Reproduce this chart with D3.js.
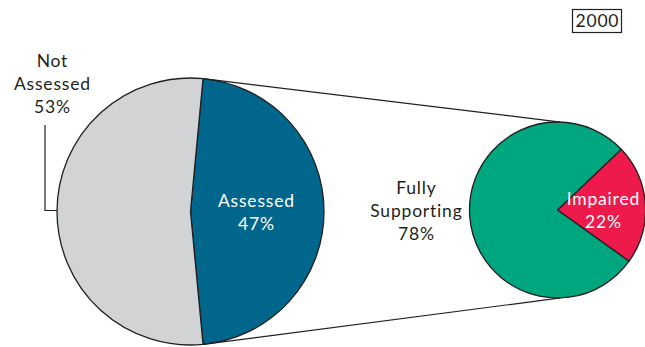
<!DOCTYPE html>
<html><head><meta charset="utf-8">
<script src="https://cdn.jsdelivr.net/npm/d3@7"></script>
<style>body{margin:0;background:#fff}svg{display:block}text{font-family:Lato,"Open Sans",sans-serif}</style>
</head><body>
<script>
const mainLabels = ["Assessed", "Not Assessed"];
const mainValues = [47, 53];
const subLabels = ["Impaired", "Fully Supporting"];
const subValues = [22, 78];
const yearLabel = "2000";

const W = 645, H = 347;
const svg = d3.select("body").append("svg").attr("width", W).attr("height", H);
const ink = "#231f20";

// Left pie
const c1 = {x: 190.5, y: 211.5}, r1 = 133.5;
const a1Start = Math.PI/2 - (mainValues[0]/100)*Math.PI;
const pie1 = d3.pie().sort(null).value(d => d).startAngle(a1Start).endAngle(a1Start + 2*Math.PI);
const arcs1 = pie1(mainValues);
const arc1 = d3.arc().innerRadius(0).outerRadius(r1);
const g1 = svg.append("g").attr("transform", `translate(${c1.x},${c1.y})`);
const col1 = ["#00668c", "#d1d3d4"];
g1.selectAll("path").data(arcs1).join("path").attr("d", arc1)
  .attr("fill", (d,i) => col1[i]).attr("stroke", ink).attr("stroke-width", 1.3).attr("stroke-linejoin","round");

// Right pie
const c2 = {x: 557.5, y: 210}, r2 = 88;
const rot = -4 * Math.PI/180;
const a2Start = Math.PI/2 - (subValues[0]/100)*Math.PI + rot;
const pie2 = d3.pie().sort(null).value(d => d).startAngle(a2Start).endAngle(a2Start + 2*Math.PI);
const arcs2 = pie2(subValues);
const arc2 = d3.arc().innerRadius(0).outerRadius(r2);
const g2 = svg.append("g").attr("transform", `translate(${c2.x},${c2.y})`);
const col2 = ["#ed1a4b", "#00a67e"];

// connector lines
const p = (c, r, a) => [c.x + r*Math.sin(a), c.y - r*Math.cos(a)];
const topL = p(c1, r1, arcs1[0].startAngle), botL = p(c1, r1, arcs1[0].endAngle);
const ang2 = 2*Math.PI/180;
const topR = p(c2, r2, ang2), botR = p(c2, r2, Math.PI - ang2);
svg.append("line").attr("x1", topL[0]).attr("y1", topL[1]).attr("x2", topR[0]).attr("y2", topR[1]).attr("stroke", ink).attr("stroke-width", 1.2);
svg.append("line").attr("x1", botL[0]).attr("y1", botL[1]).attr("x2", botR[0]).attr("y2", botR[1]).attr("stroke", ink).attr("stroke-width", 1.2);

g2.selectAll("path").data(arcs2).join("path").attr("d", arc2)
  .attr("fill", (d,i) => col2[i]).attr("stroke", ink).attr("stroke-width", 1.3).attr("stroke-linejoin","round");

// leader for Not Assessed
svg.append("path").attr("d", `M45,125 V210.5 H${c1.x - r1}`).attr("fill", "none").attr("stroke", ink).attr("stroke-width", 1.2);

const LS = 0.8;
function label(x, ys, lines, color) {
  const t = svg.append("text").attr("text-anchor", "middle").attr("fill", color)
    .attr("font-size", 17.5).attr("letter-spacing", LS);
  lines.forEach((s, i) => t.append("tspan").attr("x", x + LS/2).attr("y", ys[i]).text(s));
}
label(52, [67, 90, 113], ["Not", "Assessed", mainValues[1] + "%"], ink);
label(256, [207, 230], [mainLabels[0], mainValues[0] + "%"], "#fff");
label(416, [194, 217, 240], ["Fully", "Supporting", subValues[1] + "%"], ink);
label(603, [205, 228], [subLabels[0], subValues[0] + "%"], "#fff");

svg.append("rect").attr("x", 572.5).attr("y", 9.5).attr("width", 49).attr("height", 23).attr("fill", "#fff").attr("stroke", ink).attr("stroke-width", 1.2);
svg.append("text").attr("x", 597.4).attr("y", 27).attr("text-anchor", "middle").attr("font-size", 17.5)
  .attr("letter-spacing", LS).attr("fill", ink).text(yearLabel);
</script>
</body></html>
